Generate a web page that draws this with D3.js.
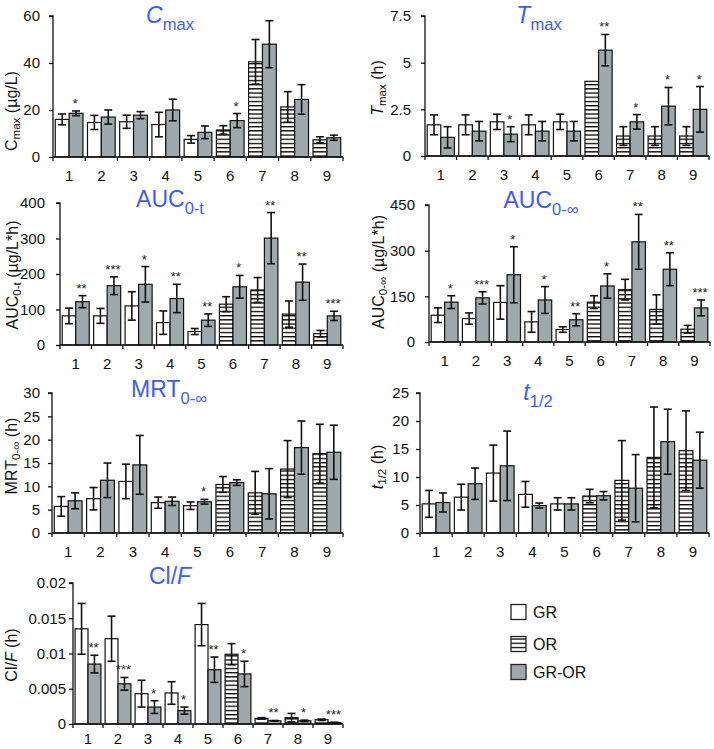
<!DOCTYPE html>
<html><head><meta charset="utf-8">
<script src="https://cdn.jsdelivr.net/npm/d3@7"></script>
<style>
html,body{margin:0;padding:0;background:#fff;}
svg{display:block;font-family:"Liberation Sans",Arial,sans-serif;}
</style></head>
<body><svg id="c" width="714" height="749"></svg>
<script>
// ---------- data ----------
const groups = ["1","2","3","4","5","6","7","8","9"];
const firstType = ["GR","GR","GR","GR","GR","OR","OR","OR","OR"];

const cmaxFirst    = [16, 14.7, 15, 13.8, 7.5, 11.5, 40.5, 21.3, 7.3];
const cmaxFirstErr = [2.3, 3, 2.8, 5.2, 1.6, 1.8, 9.5, 6.5, 1.3];
const cmaxGROR     = [18.6, 17, 17.8, 20, 10.5, 15.5, 48, 24.5, 8.2];
const cmaxGRORErr  = [1.0, 3, 1.5, 4.6, 2.7, 3, 10, 6.3, 1.1];
const cmaxSig      = ["*","","","","","*","","",""];

const tmaxFirst    = [1.67, 1.67, 1.83, 1.67, 1.83, 4.0, 1.07, 1.07, 1.07];
const tmaxFirstErr = [0.53, 0.53, 0.41, 0.53, 0.41, 0, 0.5, 0.5, 0.5];
const tmaxGROR     = [1.0, 1.33, 1.17, 1.33, 1.33, 5.67, 1.83, 2.67, 2.5];
const tmaxGRORErr  = [0.57, 0.52, 0.4, 0.52, 0.52, 0.84, 0.39, 1.0, 1.22];
const tmaxSig      = ["","","*","","","**","*","*","*"];

const auctFirst    = [82, 82, 110, 63, 38, 115, 155, 87, 32];
const auctFirstErr = [22, 21, 40, 33, 8.5, 21, 35, 37, 9];
const auctGROR     = [122, 167, 171, 131, 70, 164, 301, 177, 82];
const auctGRORErr  = [17, 25, 50, 40, 17.5, 32, 72, 51, 13];
const auctSig      = ["**","***","*","**","**","*","**","**","***"];

const aucinfFirst    = [88, 77, 130, 66, 41, 131, 172, 107, 42];
const aucinfFirstErr = [24, 18.5, 55, 34, 9, 21, 34, 48, 12.6];
const aucinfGROR     = [131, 145, 221, 138, 73, 184, 329, 239, 112];
const aucinfGRORErr  = [21, 20, 92, 44, 20, 40, 90, 54, 26];
const aucinfSig      = ["*","***","*","*","**","*","**","**","***"];

const mrtFirst    = [5.7, 7.35, 11.05, 6.5, 5.85, 10.4, 8.6, 13.7, 17.0];
const mrtFirstErr = [2.1, 2.4, 3.7, 1.2, 0.8, 1.7, 4.6, 6.1, 6.3];
const mrtGROR     = [6.9, 11.3, 14.6, 6.8, 6.7, 10.8, 8.4, 18.3, 17.3];
const mrtGRORErr  = [1.7, 3.7, 6.3, 0.9, 0.5, 0.6, 5.4, 5.7, 5.8];
const mrtSig      = ["","","","","*","","","",""];

const thalfFirst    = [5.2, 6.4, 10.7, 6.9, 5.2, 6.6, 9.4, 13.5, 14.7];
const thalfFirstErr = [2.4, 2.3, 5.0, 2.3, 1.1, 1.2, 7.1, 9.0, 7.1];
const thalfGROR     = [5.45, 8.8, 12.0, 4.9, 5.2, 6.65, 8.0, 16.3, 13.0];
const thalfGRORErr  = [1.7, 2.8, 6.2, 0.45, 1.1, 0.75, 6.0, 5.8, 5.0];
const thalfSig      = ["","","","","","","","",""];

const clfFirst    = [0.0135, 0.0121, 0.0043, 0.0044, 0.0141, 0.0099, 0.0008, 0.0009, 0.0006];
const clfFirstErr = [0.0036, 0.0032, 0.0019, 0.0016, 0.003, 0.0015, 0.0001, 0.0006, 0.0001];
const clfGROR     = [0.0085, 0.0057, 0.0024, 0.0019, 0.0077, 0.0071, 0.00045, 0.00045, 0.0002];
const clfGRORErr  = [0.00125, 0.0009, 0.0009, 0.0005, 0.0018, 0.0018, 0.00005, 0.0001, 0.00005];
const clfSig      = ["**","***","*","*","**","*","**","*","***"];

const cmaxTicks   = [0, 20, 40, 60];
const tmaxTicks   = [0, 2.5, 5, 7.5];
const auctTicks   = [0, 100, 200, 300, 400];
const aucinfTicks = [0, 150, 300, 450];
const mrtTicks    = [0, 5, 10, 15, 20, 25, 30];
const thalfTicks  = [0, 5, 10, 15, 20, 25];
const clfTicks    = [0, 0.005, 0.01, 0.015, 0.02];

const legendLabels = ["GR", "OR", "GR-OR"];

// ---------- styles ----------
const BLUE = "#3d5cfb";
const GRAY = "#9da9ad";

const svg = d3.select("#c");
const defs = svg.append("defs");
const pat = defs.append("pattern").attr("id","hatch").attr("patternUnits","userSpaceOnUse")
  .attr("width",8).attr("height",4.2);
pat.append("rect").attr("width",8).attr("height",4.2).attr("fill","#fff");
pat.append("rect").attr("x",0).attr("y",0).attr("width",8).attr("height",1.3).attr("fill","#000");

function fillFor(t){ return t==="GR" ? "#fff" : (t==="OR" ? "url(#hatch)" : GRAY); }

// text helper with parts: {t, it, sub}
function richText(sel, parts, size){
  let sub = false;
  parts.forEach(p => {
    const ts = sel.append("tspan").text(p.t);
    if (p.it) ts.attr("font-style","italic");
    if (p.sub && !sub){ ts.attr("dy", size*0.3).attr("font-size", size*0.72); sub = true; }
    else if (!p.sub && sub){ ts.attr("dy", -size*0.3); sub = false; }
    else if (p.sub) ts.attr("font-size", size*0.72);
  });
}

const panels = [
  {first:cmaxFirst, firstErr:cmaxFirstErr, gror:cmaxGROR, grorErr:cmaxGRORErr, sig:cmaxSig, ticks:cmaxTicks,
   x0:53, x1:343, yT:16, yB:157, tx:170, ty:23, title:[{t:"C",it:true},{t:"max",sub:true}],
   lx:11, ly:111, ylab:[{t:"C"},{t:"max",sub:true},{t:" (µg/L)"}], pad:9, xl:24},
  {first:tmaxFirst, firstErr:tmaxFirstErr, gror:tmaxGROR, grorErr:tmaxGRORErr, sig:tmaxSig, ticks:tmaxTicks,
   x0:425, x1:709, yT:16, yB:156, tx:539, ty:23, title:[{t:"T",it:true},{t:"max",sub:true}],
   lx:377, ly:88, ylab:[{t:"T",it:true},{t:"max",sub:true},{t:" (h)"}], pad:10, xl:24},
  {first:auctFirst, firstErr:auctFirstErr, gror:auctGROR, grorErr:auctGRORErr, sig:auctSig, ticks:auctTicks,
   x0:60, x1:343, yT:203, yB:345, tx:170, ty:207, title:[{t:"AUC"},{t:"0-t",sub:true}],
   lx:12, ly:275, ylab:[{t:"AUC"},{t:"0-t",sub:true},{t:" (µg/L*h)"}], pad:11, xl:24},
  {first:aucinfFirst, firstErr:aucinfFirstErr, gror:aucinfGROR, grorErr:aucinfGRORErr, sig:aucinfSig, ticks:aucinfTicks,
   x0:429, x1:710, yT:205, yB:342, tx:541, ty:208, title:[{t:"AUC"},{t:"0-∞",sub:true}],
   lx:378, ly:272, ylab:[{t:"AUC"},{t:"0-∞",sub:true},{t:" (µg/L*h)"}], pad:10, xl:24},
  {first:mrtFirst, firstErr:mrtFirstErr, gror:mrtGROR, grorErr:mrtGRORErr, sig:mrtSig, ticks:mrtTicks,
   x0:52, x1:343, yT:393, yB:533, tx:169, ty:397, title:[{t:"MRT"},{t:"0-∞",sub:true}],
   lx:11, ly:456, ylab:[{t:"MRT"},{t:"0-∞",sub:true},{t:" (h)"}], pad:8, xl:24},
  {first:thalfFirst, firstErr:thalfFirstErr, gror:thalfGROR, grorErr:thalfGRORErr, sig:thalfSig, ticks:thalfTicks,
   x0:420, x1:709, yT:393, yB:533, tx:538, ty:400, title:[{t:"t",it:true},{t:"1/2",sub:true}],
   lx:377, ly:467, ylab:[{t:"t",it:true},{t:"1/2",sub:true},{t:" (h)"}], pad:7, xl:24},
  {first:clfFirst, firstErr:clfFirstErr, gror:clfGROR, grorErr:clfGRORErr, sig:clfSig, ticks:clfTicks,
   x0:73, x1:343, yT:583, yB:724, tx:170, ty:584, title:[{t:"Cl/"},{t:"F",it:true}],
   lx:11, ly:655, ylab:[{t:"Cl/"},{t:"F",it:true},{t:" (h)"}], pad:3, xl:20}
];

const fmt = v => v === 0 ? "0" : String(+v.toFixed(4));

panels.forEach(p => {
  const g = svg.append("g");
  const x = d3.scaleBand().domain(groups).range([p.x0, p.x1]).paddingInner(0).paddingOuter(0);
  const y = d3.scaleLinear().domain([0, p.ticks[p.ticks.length-1]]).range([p.yB, p.yT]);
  const bw = x.bandwidth();
  const barW = bw * 0.43;
  const sub = d3.scaleBand().domain(["a","b"]).range([bw/2 - barW, bw/2 + barW]);

  const rows = groups.map((k,i) => ({k, i, type:firstType[i], v1:p.first[i], e1:p.firstErr[i], v2:p.gror[i], e2:p.grorErr[i], s:p.sig[i]}));
  const gg = g.selectAll("g.grp").data(rows).join("g").attr("transform", d => `translate(${x(d.k)},0)`);
  gg.append("rect").attr("x", sub("a")).attr("width", sub.bandwidth())
    .attr("y", d => y(d.v1)).attr("height", d => y(0) - y(d.v1))
    .attr("fill", d => fillFor(d.type)).attr("stroke","#111").attr("stroke-width",1.2);
  gg.append("rect").attr("x", sub("b")).attr("width", sub.bandwidth())
    .attr("y", d => y(d.v2)).attr("height", d => y(0) - y(d.v2))
    .attr("fill", GRAY).attr("stroke","#111").attr("stroke-width",1.2);

  const cap = 4;
  function err(sel, key, vk, ek){
    const cx = sub(key) + sub.bandwidth()/2;
    const s = sel.filter(d => d[ek] > 0).append("g").attr("stroke","#111").attr("stroke-width",1.6);
    s.append("line").attr("x1",cx).attr("x2",cx).attr("y1", d => y(d[vk]+d[ek])).attr("y2", d => y(Math.max(0,d[vk]-d[ek])));
    s.append("line").attr("x1",cx-cap).attr("x2",cx+cap).attr("y1", d => y(d[vk]+d[ek])).attr("y2", d => y(d[vk]+d[ek]));
    s.append("line").attr("x1",cx-cap).attr("x2",cx+cap).attr("y1", d => y(Math.max(0,d[vk]-d[ek]))).attr("y2", d => y(Math.max(0,d[vk]-d[ek])));
  }
  err(gg, "a", "v1", "e1");
  err(gg, "b", "v2", "e2");

  gg.filter(d => d.s).append("text")
    .attr("x", sub("b") + sub.bandwidth()/2 - 1)
    .attr("y", d => y(d.v2 + d.e2) - 3)
    .attr("text-anchor","middle").attr("font-size",13).attr("fill","#222")
    .text(d => d.s);

  const ya = g.append("g").attr("transform", `translate(${p.x0},0)`)
    .call(d3.axisLeft(y).tickValues(p.ticks).tickFormat(fmt).tickSize(4).tickPadding(p.pad));
  ya.select(".domain").attr("stroke","#111").attr("stroke-width",1.3).attr("d", `M-4,${p.yT}H0V${p.yB}`);
  ya.selectAll(".tick line").attr("stroke","#111").attr("stroke-width",1.3);
  ya.selectAll(".tick text").attr("font-size",15).attr("fill","#111")
    .attr("font-family","'Liberation Sans',Arial,sans-serif");

  const xa = g.append("g");
  xa.append("line").attr("x1",p.x0).attr("x2",p.x1).attr("y1",p.yB).attr("y2",p.yB)
    .attr("stroke","#111").attr("stroke-width",1.3);
  const bounds = groups.map(k => x(k)).concat([x(groups[groups.length-1]) + bw]);
  xa.selectAll("line.tk").data(bounds).join("line").attr("class","tk")
    .attr("x1", d => d).attr("x2", d => d).attr("y1", p.yB).attr("y2", p.yB + 4)
    .attr("stroke","#111").attr("stroke-width",1.3);
  xa.selectAll("text").data(groups).join("text")
    .attr("x", d => x(d) + bw/2).attr("y", p.yB + p.xl)
    .attr("text-anchor","middle").attr("font-size",15).attr("fill","#111").text(d => d);

  const t = g.append("text").attr("x", p.tx).attr("y", p.ty).attr("text-anchor","middle")
    .attr("fill", BLUE).attr("font-size", 23);
  richText(t, p.title, 23);

  const yl = g.append("text").attr("transform", `translate(${p.lx},${p.ly}) rotate(-90)`)
    .attr("text-anchor","middle").attr("dominant-baseline","central").attr("font-size",16).attr("fill","#111");
  richText(yl, p.ylab, 16);
});

// legend
const leg = svg.append("g");
const legY = d3.scalePoint().domain(legendLabels).range([612, 672]);
const legTypes = ["GR","OR","GR-OR"];
legendLabels.forEach((l, i) => {
  const cy = legY(l) + (i===1 ? 2 : 0);
  leg.append("rect").attr("x",511).attr("y",cy-7.5).attr("width",15).attr("height",15)
    .attr("fill", fillFor(legTypes[i])).attr("stroke","#222").attr("stroke-width",1.3);
  leg.append("text").attr("x",533).attr("y",cy+6).attr("font-size",16).attr("fill","#111").text(l);
});
</script></body></html>
